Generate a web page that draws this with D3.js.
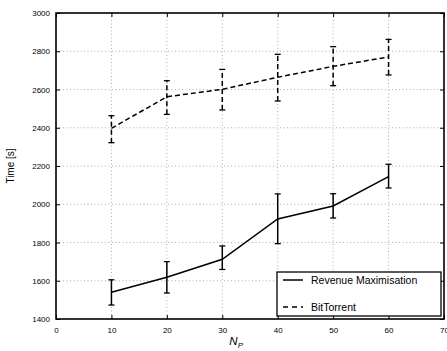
<!DOCTYPE html>
<html>
<head>
<meta charset="utf-8">
<script src="https://cdn.jsdelivr.net/npm/d3@7"></script>
<style>
  body { margin: 0; background: #fff; }
  text { font-family: "Liberation Sans", Arial, sans-serif; }
</style>
</head>
<body>
<div id="chart"></div>
<script>
// data
var np = [10, 20, 30, 40, 50, 60];
var revMean = [1540, 1618, 1712, 1923, 1991, 2144];
var revLow = [1473, 1536, 1659, 1794, 1928, 2085];
var revHigh = [1605, 1700, 1782, 2054, 2055, 2209];
var btMean = [2397, 2562, 2601, 2664, 2721, 2770];
var btLow = [2322, 2470, 2493, 2540, 2620, 2676];
var btHigh = [2463, 2646, 2705, 2784, 2824, 2862];
var xTicks = [0, 10, 20, 30, 40, 50, 60, 70];
var yTicks = [1400, 1600, 1800, 2000, 2200, 2400, 2600, 2800, 3000];

var W = 447, H = 351;
var margin = {top: 13, right: 3, bottom: 32, left: 56};
var width = W - margin.left - margin.right;
var height = H - margin.top - margin.bottom;

var svg = d3.select("#chart").append("svg")
  .attr("width", W).attr("height", H)
  .append("g")
  .attr("transform", "translate(" + margin.left + "," + margin.top + ")");

var x = d3.scaleLinear().domain([0, 70]).range([0, width]);
var y = d3.scaleLinear().domain([1400, 3000]).range([height, 0]);

// grid
svg.append("g").selectAll("line.gx")
  .data(xTicks.slice(1, -1)).enter().append("line")
  .attr("x1", d => x(d)).attr("x2", d => x(d))
  .attr("y1", 0).attr("y2", height)
  .attr("stroke", "#999").attr("stroke-width", 0.8).attr("stroke-dasharray", "1,2.5");
svg.append("g").selectAll("line.gy")
  .data(yTicks.slice(1, -1)).enter().append("line")
  .attr("y1", d => y(d)).attr("y2", d => y(d))
  .attr("x1", 0).attr("x2", width)
  .attr("stroke", "#999").attr("stroke-width", 0.8).attr("stroke-dasharray", "1,2.5");

// axes (ticks pointing inward)
var fmt = d3.format("d");
var axB = svg.append("g").attr("transform", "translate(0," + height + ")")
  .call(d3.axisBottom(x).tickValues(xTicks).tickFormat(fmt).tickSizeInner(-4).tickSizeOuter(0).tickPadding(8));
var axT = svg.append("g")
  .call(d3.axisTop(x).tickValues(xTicks).tickSizeInner(-4).tickSizeOuter(0).tickFormat(""));
var axL = svg.append("g")
  .call(d3.axisLeft(y).tickValues(yTicks).tickFormat(fmt).tickSizeInner(-4).tickSizeOuter(0).tickPadding(6));
var axR = svg.append("g").attr("transform", "translate(" + width + ",0)")
  .call(d3.axisRight(y).tickValues(yTicks).tickSizeInner(-4).tickSizeOuter(0).tickFormat(""));
[axB, axT, axL, axR].forEach(function(a) {
  a.select(".domain").remove();
  a.selectAll("text").attr("font-size", 8).attr("fill", "#000");
  a.selectAll("line").attr("stroke", "#000");
});

svg.append("rect").attr("width", width).attr("height", height)
  .attr("fill", "none").attr("stroke", "#000").attr("stroke-width", 1.6);

// series
function drawSeries(mean, low, high, dash) {
  var pts = np.map((d, i) => ({x: d, m: mean[i], lo: low[i], hi: high[i]}));
  svg.append("path").datum(pts)
    .attr("fill", "none").attr("stroke", "#000").attr("stroke-width", 1.5)
    .attr("stroke-dasharray", dash)
    .attr("d", d3.line().x(d => x(d.x)).y(d => y(d.m)));
  var g = svg.append("g").selectAll("g").data(pts).enter().append("g");
  g.append("line")
    .attr("x1", d => x(d.x)).attr("x2", d => x(d.x))
    .attr("y1", d => y(d.lo)).attr("y2", d => y(d.hi))
    .attr("stroke", "#000").attr("stroke-width", 1.5).attr("stroke-dasharray", dash);
  g.append("line")
    .attr("x1", d => x(d.x) - 3).attr("x2", d => x(d.x) + 3)
    .attr("y1", d => y(d.lo)).attr("y2", d => y(d.lo))
    .attr("stroke", "#000").attr("stroke-width", 1.3);
  g.append("line")
    .attr("x1", d => x(d.x) - 3).attr("x2", d => x(d.x) + 3)
    .attr("y1", d => y(d.hi)).attr("y2", d => y(d.hi))
    .attr("stroke", "#000").attr("stroke-width", 1.3);
}
drawSeries(revMean, revLow, revHigh, null);
drawSeries(btMean, btLow, btHigh, "5,3");

// legend
var lg = svg.append("g").attr("transform", "translate(" + (277 - margin.left) + "," + (272 - margin.top) + ")");
lg.append("rect").attr("width", 164).attr("height", 44)
  .attr("fill", "#fff").attr("stroke", "#000").attr("stroke-width", 1.3);
var items = [["Revenue Maximisation", null], ["BitTorrent", "5,4"]];
items.forEach(function(it, i) {
  var yy = 8 + i * 27;
  lg.append("line").attr("x1", 6).attr("x2", 26).attr("y1", yy).attr("y2", yy)
    .attr("stroke", "#000").attr("stroke-width", 1.5).attr("stroke-dasharray", it[1]);
  lg.append("text").attr("x", 34).attr("y", yy + 3.5).attr("font-size", 10.5).text(it[0]);
});

// axis labels
svg.append("text")
  .attr("transform", "translate(" + (14 - margin.left) + "," + (height / 2) + ") rotate(-90)")
  .attr("text-anchor", "middle").attr("font-size", 10).text("Time [s]");
var xl = svg.append("text").attr("x", x(32.5)).attr("y", height + 26)
  .attr("text-anchor", "middle").attr("font-size", 11.5);
xl.append("tspan").attr("font-style", "italic").text("N");
xl.append("tspan").attr("font-style", "italic").attr("font-size", 8).attr("dy", 3).text("P");
</script>
</body>
</html>
